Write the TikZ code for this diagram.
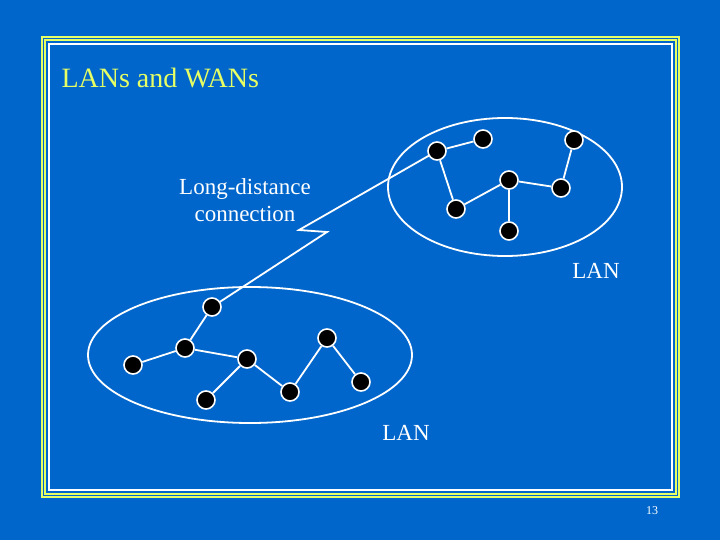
\documentclass[tikz,border=0pt]{standalone}
\usepackage{fontspec}
\setmainfont{Liberation Serif}
\begin{document}
\begin{tikzpicture}[x=1pt,y=-1pt,
  host/.style={circle,fill=black,draw=white,line width=1.6pt,minimum size=18pt,inner sep=0pt},
  link/.style={draw=white,line width=1.8pt},
  lbl/.style={text=white,font=\fontsize{23}{27}\selectfont}]
\definecolor{bg}{RGB}{0,102,204}
\definecolor{yel}{RGB}{230,255,100}
\fill[bg] (0,0) rectangle (720,540);
\useasboundingbox (0,0) rectangle (720,540);
\draw[yel,line width=1.5pt] (42,37) rectangle (679,497);
\draw[yel,line width=1.5pt] (45,40) rectangle (676,494);
\draw[white,line width=1.5pt] (49,44) rectangle (672,490);
\node[text=yel,anchor=west,font=\fontsize{28}{32}\selectfont] (title) at (58,78) {LANs and WANs};
\draw[link] (505,187) ellipse[x radius=117,y radius=69];
\draw[link] (250,355) ellipse[x radius=162,y radius=68];
\draw[link,line join=miter] (437,151) -- (299,230) -- (327,232) -- (212,307);
\node[host] (a) at (437,151) {};
\node[host] (b) at (483,139) {};
\node[host] (c) at (574,140) {};
\node[host] (d) at (509,180) {};
\node[host] (e) at (561,188) {};
\node[host] (f) at (456,209) {};
\node[host] (g) at (509,231) {};
\node[host] (h) at (212,307) {};
\node[host] (i) at (185,348) {};
\node[host] (j) at (133,365) {};
\node[host] (k) at (247,359) {};
\node[host] (l) at (206,400) {};
\node[host] (m) at (290,392) {};
\node[host] (n) at (327,338) {};
\node[host] (o) at (361,382) {};
\draw[link] (a) -- (b) (a) -- (f) (f) -- (d) (d) -- (e) (d) -- (g) (e) -- (c);
\draw[link] (j) -- (i) (i) -- (h) (i) -- (k) (l) -- (k) (k) -- (m) (m) -- (n) (n) -- (o);
\node[lbl,align=center] (ld) at (245,200) {Long-distance\\connection};
\node[lbl] (lan1) at (596,271) {LAN};
\node[lbl] (lan2) at (406,433) {LAN};
\node[text=white,font=\fontsize{12}{14}\selectfont] (pg) at (652,511) {13};
\end{tikzpicture}
\end{document}
